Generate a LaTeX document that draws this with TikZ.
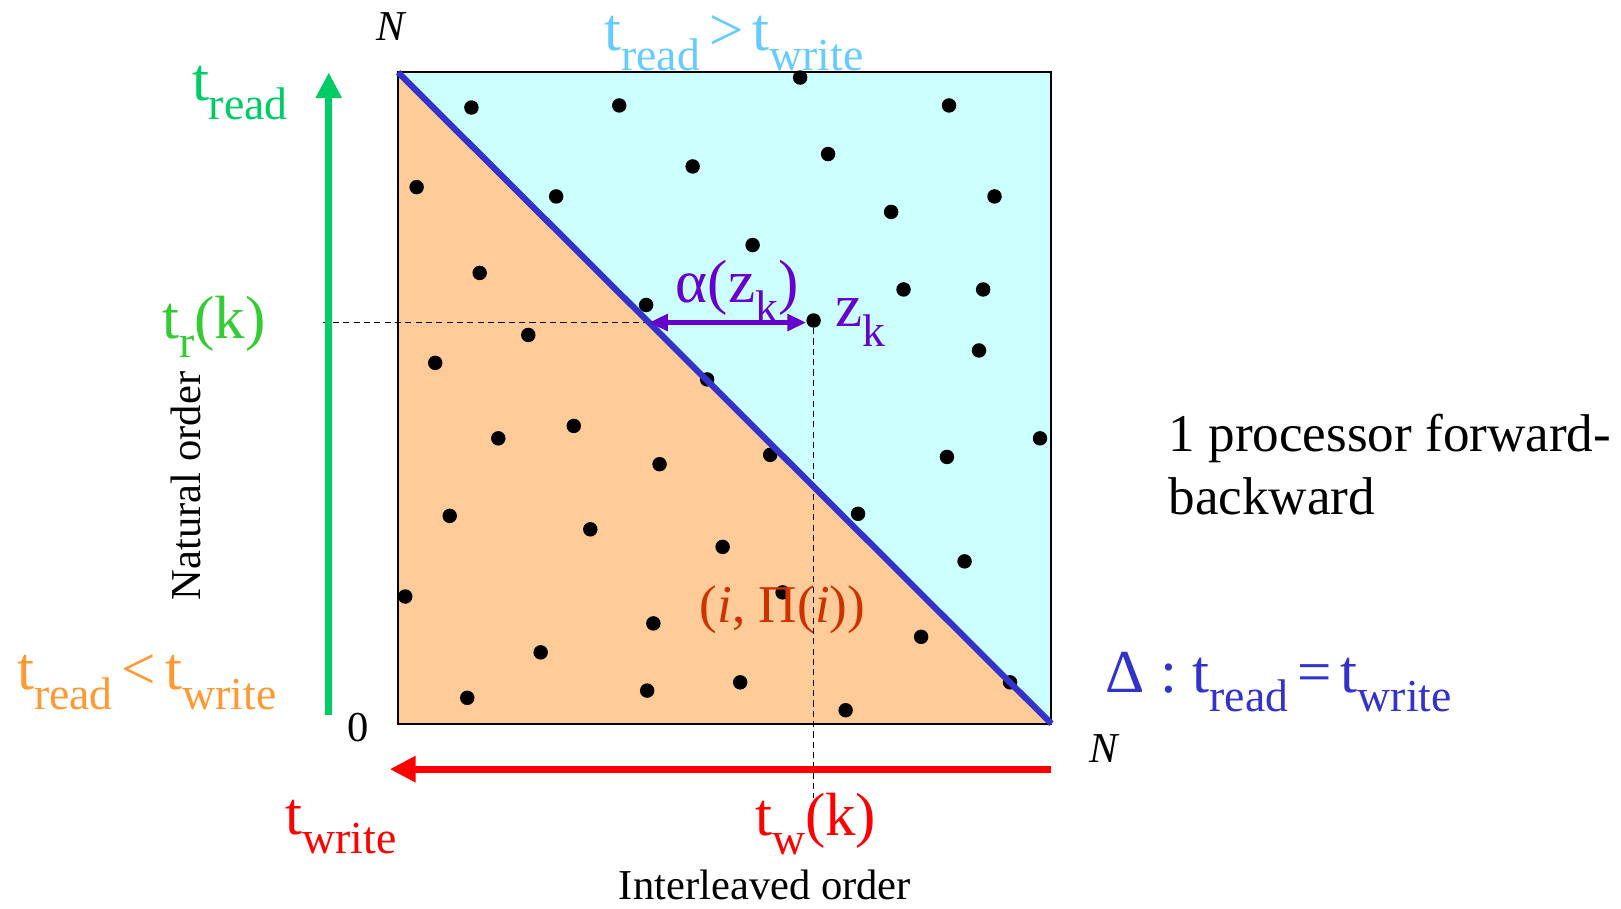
\documentclass[tikz,border=0pt]{standalone}
\usepackage{fontspec}
\setmainfont{Liberation Serif}
\usetikzlibrary{arrows.meta}
\definecolor{cyanfill}{HTML}{CCFFFF}
\definecolor{orangefill}{HTML}{FFCC99}
\definecolor{diagblue}{HTML}{3333CC}
\definecolor{arrgreen}{HTML}{00CC66}
\definecolor{trgreen}{HTML}{33CC33}
\definecolor{lblorange}{HTML}{FF9933}
\definecolor{lblblue}{HTML}{66CCFF}
\definecolor{lblpurple}{HTML}{6600CC}
\definecolor{lblrust}{HTML}{CC3300}
\newcommand{\sbs}[1]{\raisebox{-0.32em}{\scalebox{0.75}{#1}}}
\tikzset{
  dot/.style={circle,fill=black,inner sep=0pt,minimum size=7pt},
  biglab/.style={inner sep=0pt,font=\fontsize{29.5}{34}\selectfont},
  midlab/.style={inner sep=0pt,font=\fontsize{25.7}{30.5}\selectfont},
  smalllab/.style={inner sep=0pt,font=\fontsize{20.6}{24}\selectfont},
  guide/.style={line width=0.8pt,dash pattern=on 3pt off 2pt},
  axisarrow/.style={line width=3.5pt,-{Triangle[length=12.5pt,width=12pt]}},
}
\begin{document}
\begin{tikzpicture}[x=0.5pt,y=-0.5pt]
\useasboundingbox (0,0) rectangle (1568,879);
% square corners
\coordinate (O) at (385,700);
\coordinate (NX) at (1017,700);
\coordinate (NY) at (385,70);
\coordinate (TR) at (1017,70);
\fill[cyanfill] (NY) -- (TR) -- (NX) -- cycle;
\fill[orangefill] (NY) -- (O) -- (NX) -- cycle;
\draw[line width=1pt] (NY) rectangle (NX);
% dots
\foreach \x/\y [count=\i] in {456/104,599/102,774/75,918/102,670/161,801/149,403/181,538/190,862/205,962/190,728/237,464/264,874/280,951/280,625/295,511/324,421/351,947/339,684/367,555/412,482/424,1006/424,638/449,745/440,916/442,435/499,830/497,571/512,699/529,933/543,392/577,757/573,632/603,891/616,523/631,626/668,716/660,452/675,818/687,977/660}
  \node[dot] (d\i) at (\x,\y) {};
\node[dot] (zk) at (787,310) {};
% guides
\coordinate (trk) at (312,312);
\coordinate (twk) at (789,772);
\draw[guide] (trk) -- (trk -| zk);
\draw[guide] (zk) -- (zk |- twk);
% diagonal
\draw[diagblue,line width=3pt] (NY) -- (NX);
% alpha arrow
\coordinate (dk) at (628,312);
\draw[lblpurple,line width=2pt,{Triangle[length=9pt,width=8pt]}-{Triangle[length=9pt,width=8pt]}] (dk) -- (dk -| zk.west);
% axis arrows
\coordinate (gbot) at (318,692);
\coordinate (gtop) at (318,70);
\draw[arrgreen,axisarrow] (gbot) -- (gtop);
\coordinate (rright) at (1017,744);
\coordinate (rleft) at (377,744);
\draw[red,axisarrow] (rright) -- (rleft);
% labels
\node[smalllab,font=\fontsize{20.6}{24}\selectfont\itshape] (Ntop) at (378,26) {N};
\node[smalllab] (zero) at (346,704) {0};
\node[smalllab,font=\fontsize{20.6}{24}\selectfont\itshape] (Nright) at (1068,724) {N};
\node[biglab,text=lblblue] (gt) at (710,42) {t\sbs{read}\hspace{0.15em}>\hspace{0.15em}t\sbs{write}};
\node[biglab,text=arrgreen] (tread) at (232,90) {t\sbs{read}};
\node[biglab,text=trgreen] (trlab) at (207,316) {t\sbs{r}(k)};
\node[smalllab,rotate=90] (nat) at (180,470) {Natural order};
\node[biglab,text=lblorange] (lt) at (142,660) {t\sbs{read}\hspace{0.15em}<\hspace{0.15em}t\sbs{write}};
\node[biglab,text=red] (twrite) at (330,800) {t\sbs{write}};
\node[biglab,text=red] (twlab) at (789,797) {t\sbs{w}(k)};
\node[smalllab] (inter) at (740,856) {Interleaved order};
\node[biglab,text=lblpurple] (alpha) at (713,282) {α(z\sbs{k})};
\node[biglab,text=lblpurple] (zklab) at (832,312) {z\sbs{k}};
\node[midlab,text=lblrust] (pilab) at (757,590) {(\textit{i}, Π(\textit{i}))};
\node[biglab,text=diagblue] (delta) at (1237,660) {Δ : t\sbs{read}\hspace{0.15em}=\hspace{0.15em}t\sbs{write}};
\node[midlab,align=left,anchor=north west] (proc) at (1130,400) {1 processor forward-\\backward};
\end{tikzpicture}
\end{document}
